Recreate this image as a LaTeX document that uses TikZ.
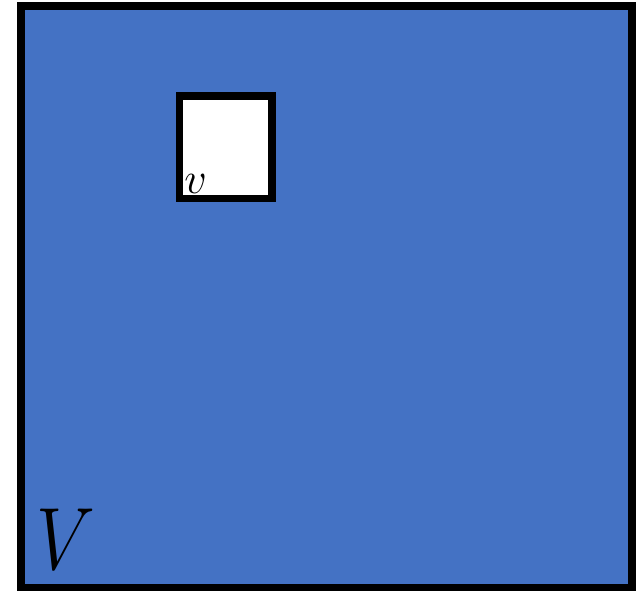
\documentclass[tikz,border=0pt]{standalone}
\usetikzlibrary{positioning}
\definecolor{cellblue}{HTML}{4472C4}

\begin{document}
\begin{tikzpicture}[
  x=0.75pt,y=-0.75pt,
  every node/.style={inner sep=0pt},
  regionbox/.style={fill=cellblue,draw=black,line width=5.6pt},
  cellbox/.style={fill=white,draw=black,line width=5.6pt},
  lbl/.style={anchor=base west,font=\huge}
]
\useasboundingbox (0,0) rectangle (641,590);
% ================= outer region V =================
\draw[regionbox] (21,6) rectangle (632,588);
\node[lbl,xscale=2.7,yscale=3.2] (labV) at (36,569) {$V$};
% ================= small cell v =================
\draw[cellbox] (179.5,96) rectangle (272,198.5);
\node[lbl,scale=1.6] (labv) at (184,193) {$v$};
\end{tikzpicture}
\end{document}
